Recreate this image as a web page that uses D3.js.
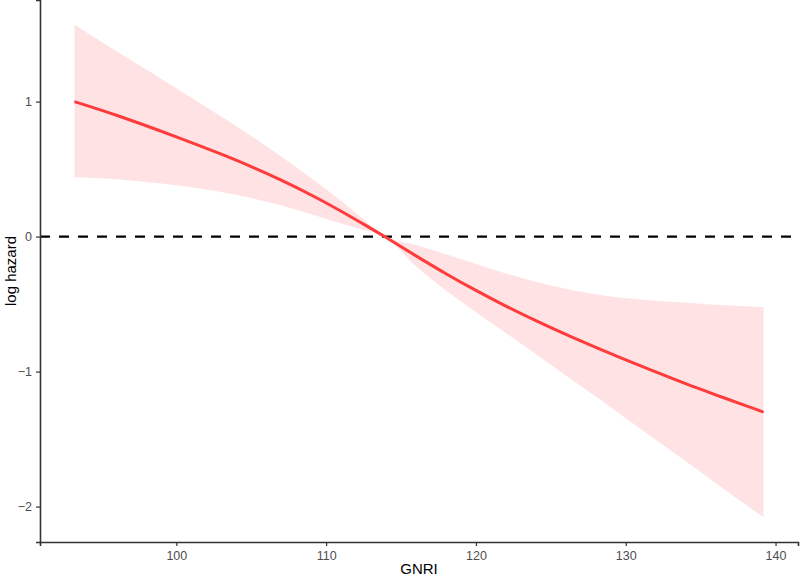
<!DOCTYPE html>
<html>
<head>
<meta charset="utf-8">
<script src="https://cdn.jsdelivr.net/npm/d3@7"></script>
<style>
  body { margin: 0; background: #fff; }
  svg { display: block; font-family: "Liberation Sans", Arial, sans-serif; }
</style>
</head>
<body>
<div id="chart"></div>
<script>
// GNRI grid with the fitted log hazard and its confidence band
const gnri  = [93.2, 96, 100, 103, 105, 107, 109, 111, 112.5, 113.9, 116, 118, 120, 122, 124, 126, 128, 130, 132, 134, 136, 138, 139.2];
const fit   = [1.00, 0.899, 0.739, 0.61, 0.518, 0.418, 0.308, 0.188, 0.092, 0, -0.143, -0.275, -0.399, -0.515, -0.623, -0.725, -0.821, -0.913, -1.003, -1.09, -1.172, -1.252, -1.30];
const upper = [1.57, 1.375, 1.099, 0.889, 0.745, 0.593, 0.433, 0.263, 0.128, 0, -0.063, -0.131, -0.203, -0.273, -0.335, -0.387, -0.427, -0.457, -0.475, -0.491, -0.505, -0.517, -0.524];
const lower = [0.44, 0.425, 0.38, 0.33, 0.285, 0.23, 0.165, 0.097, 0.05, 0, -0.22, -0.40, -0.56, -0.715, -0.87, -1.03, -1.185, -1.345, -1.505, -1.665, -1.825, -1.985, -2.08];

const xTicks = [100, 110, 120, 130, 140];
const yTicks = [-2, -1, 0, 1];

const width = 800, height = 579;
const margin = { top: 0, right: 2, bottom: 37, left: 40 };

const rows = gnri.map((g, i) => ({ g, fit: fit[i], lo: lower[i], hi: upper[i] }));

// ggplot-like 5% expansion of the data range
function expand([a, b], f = 0.05) {
  const d = (b - a) * f;
  return [a - d, b + d];
}

const x = d3.scaleLinear()
  .domain(expand(d3.extent(gnri)))
  .range([margin.left, width - margin.right]);

const y = d3.scaleLinear()
  .domain(expand([d3.min(lower), d3.max(upper)]))
  .range([height - margin.bottom, margin.top]);

const svg = d3.select('#chart').append('svg')
  .attr('width', width)
  .attr('height', height);

const curve = d3.curveCatmullRom.alpha(0.5);

// confidence band
svg.append('path')
  .datum(rows)
  .attr('fill', '#ffe3e4')
  .attr('d', d3.area()
    .curve(curve)
    .x(d => x(d.g))
    .y0(d => y(d.lo))
    .y1(d => y(d.hi)));

// reference line at zero
svg.append('line')
  .attr('x1', margin.left)
  .attr('x2', width - margin.right)
  .attr('y1', y(0))
  .attr('y2', y(0))
  .attr('stroke', '#000')
  .attr('stroke-width', 2.2)
  .attr('stroke-dasharray', '10,9');

// fitted curve
svg.append('path')
  .datum(rows)
  .attr('fill', 'none')
  .attr('stroke', '#ff3b3b')
  .attr('stroke-width', 3)
  .attr('d', d3.line()
    .curve(curve)
    .x(d => x(d.g))
    .y(d => y(d.fit)));

const fmt = v => (v < 0 ? '\u2212' + Math.abs(v) : String(v));

const xAxis = svg.append('g')
  .attr('transform', `translate(0,${height - margin.bottom})`)
  .call(d3.axisBottom(x).tickValues(xTicks).tickFormat(fmt).tickSizeOuter(0).tickSize(4).tickPadding(5));

const yAxis = svg.append('g')
  .attr('transform', `translate(${margin.left},0)`)
  .call(d3.axisLeft(y).tickValues(yTicks).tickFormat(fmt).tickSizeOuter(0).tickSize(4).tickPadding(4));

[xAxis, yAxis].forEach(ax => {
  ax.select('.domain').attr('stroke', '#333').attr('stroke-width', 1.6);
  ax.selectAll('.tick line').attr('stroke', '#333').attr('stroke-width', 1.2);
  ax.selectAll('.tick text').attr('fill', '#4d4d4d').attr('font-size', 12.5)
    .attr('font-family', '"Liberation Sans", Arial, sans-serif');
});

// axis titles
svg.append('text')
  .attr('x', (margin.left + width - margin.right) / 2)
  .attr('y', height - 5)
  .attr('text-anchor', 'middle')
  .attr('font-size', 15)
  .attr('fill', '#000')
  .text('GNRI');

svg.append('text')
  .attr('transform', `translate(16,${(margin.top + height - margin.bottom) / 2}) rotate(-90)`)
  .attr('text-anchor', 'middle')
  .attr('font-size', 15)
  .attr('fill', '#000')
  .text('log hazard');
</script>
</body>
</html>
